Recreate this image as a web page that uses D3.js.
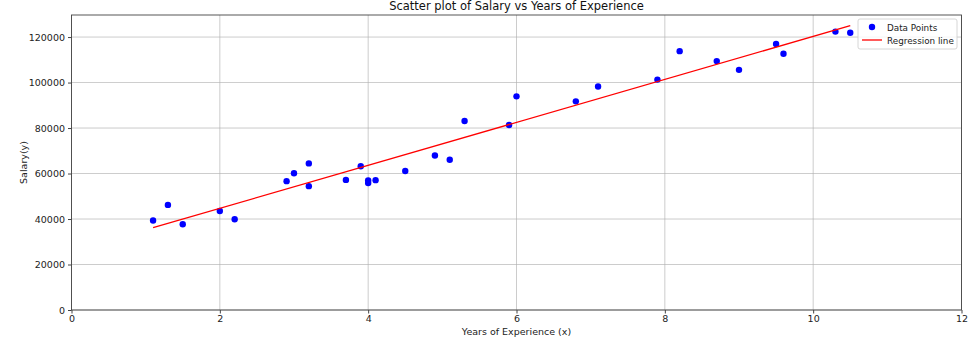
<!DOCTYPE html>
<html><head><meta charset="utf-8">
<script src="https://cdn.jsdelivr.net/npm/d3@7"></script>
<style>body{margin:0;background:#fff}text{font-family:"DejaVu Sans",sans-serif}</style>
</head><body><svg id="c" width="975" height="347"></svg>
<script>
const years = [1.1,1.3,1.5,2.0,2.2,2.9,3.0,3.2,3.2,3.7,3.9,4.0,4.0,4.1,4.5,4.9,5.1,5.3,5.9,6.0,6.8,7.1,7.9,8.2,8.7,9.0,9.5,9.6,10.3,10.5];
const salary = [39343,46205,37731,43525,39891,56642,60150,54445,64445,57189,63218,55794,56957,57081,61111,67938,66029,83088,81363,93940,91738,98273,101302,113812,109431,105582,116969,112635,122391,121872];
const xTicks = [0,2,4,6,8,10,12];
const yTicks = [0,20000,40000,60000,80000,100000,120000];
const regX = [1.1,10.5];
const regSlope = 9449.96, regIntercept = 25792.2;
const regY = regX.map(x=>regSlope*x+regIntercept);

const svg = d3.select("#c");
const L=71.5,R=961.5,T=15,B=310;
const x = d3.scaleLinear().domain([0,12]).range([L,R]);
const y = d3.scaleLinear().domain([0,129700]).range([B,T]);

svg.append("g").selectAll("line").data(xTicks).join("line")
  .attr("x1",d=>x(d)).attr("x2",d=>x(d)).attr("y1",T).attr("y2",B)
  .attr("stroke","#b0b0b0").attr("stroke-width",0.8).attr("opacity",0.8);
svg.append("g").selectAll("line").data(yTicks).join("line")
  .attr("y1",d=>y(d)).attr("y2",d=>y(d)).attr("x1",L).attr("x2",R)
  .attr("stroke","#b0b0b0").attr("stroke-width",0.8).attr("opacity",0.8);

const xa = svg.append("g").attr("transform",`translate(0,${B})`)
  .call(d3.axisBottom(x).tickValues(xTicks).tickSize(3.5).tickPadding(2).tickFormat(d3.format("d")));
const ya = svg.append("g").attr("transform",`translate(${L},0)`)
  .call(d3.axisLeft(y).tickValues(yTicks).tickSize(3.5).tickPadding(3).tickFormat(d3.format("d")));
[xa,ya].forEach(a=>{a.select(".domain").remove();a.selectAll("text").attr("font-size",9.5).attr("fill","#222").style("font-family","DejaVu Sans");a.selectAll("line").attr("stroke","#444");});

svg.append("g").selectAll("circle").data(years.map((v,i)=>[v,salary[i]])).join("circle")
  .attr("cx",d=>x(d[0])).attr("cy",d=>y(d[1])).attr("r",3.2).attr("fill","#0000ff");

svg.append("line").attr("x1",x(regX[0])).attr("y1",y(regY[0])).attr("x2",x(regX[1])).attr("y2",y(regY[1]))
  .attr("stroke","#ff0000").attr("stroke-width",1.3);

svg.append("rect").attr("x",L).attr("y",T).attr("width",R-L).attr("height",B-T)
  .attr("fill","none").attr("stroke","#444").attr("stroke-width",0.9);

svg.append("text").attr("x",(L+R)/2).attr("y",10).attr("text-anchor","middle").attr("font-size",11.5).attr("fill","#111").text("Scatter plot of Salary vs Years of Experience");
svg.append("text").attr("x",(L+R)/2).attr("y",335).attr("text-anchor","middle").attr("font-size",9.5).attr("fill","#222").text("Years of Experience (x)");
svg.append("text").attr("transform",`translate(27,${(T+B)/2}) rotate(-90)`).attr("text-anchor","middle").attr("font-size",9.5).attr("fill","#222").text("Salary(y)");

const lg = svg.append("g").attr("transform","translate(858,19)");
lg.append("rect").attr("width",99).attr("height",30).attr("rx",2).attr("fill","#fff").attr("fill-opacity",0.8).attr("stroke","#ccc").attr("stroke-width",0.8);
lg.append("circle").attr("cx",14).attr("cy",8).attr("r",3.2).attr("fill","#0000ff");
lg.append("line").attr("x1",4).attr("x2",24).attr("y1",21).attr("y2",21).attr("stroke","#ff0000").attr("stroke-width",1.3);
lg.append("text").attr("x",29).attr("y",11.5).attr("font-size",8.8).attr("fill","#222").text("Data Points");
lg.append("text").attr("x",29).attr("y",24.5).attr("font-size",8.8).attr("fill","#222").text("Regression line");
</script></body></html>
